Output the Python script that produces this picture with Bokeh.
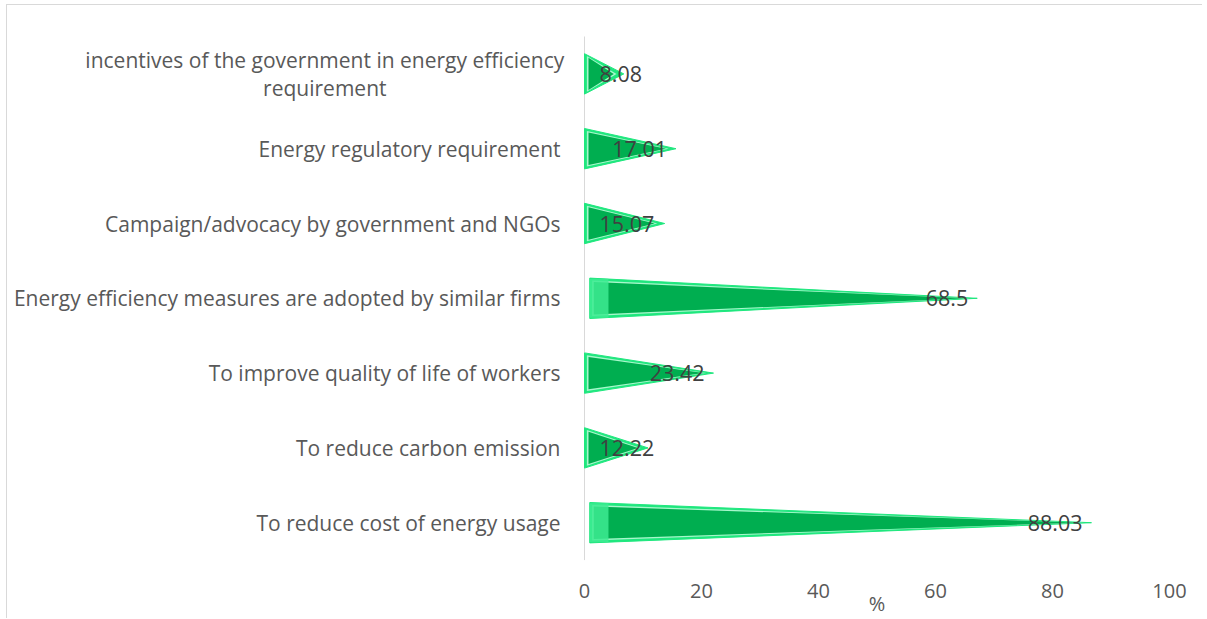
from bokeh.plotting import figure
from bokeh.models import Range1d
from bokeh.core.properties import value
from bokeh.embed import file_html
from bokeh.resources import INLINE

categories = [
    "To reduce cost of energy usage",
    "To reduce carbon emission",
    "To improve quality of life of workers",
    "Energy efficiency measures are adopted by similar firms",
    "Campaign/advocacy by government and NGOs",
    "Energy regulatory requirement",
    "incentives of the government in energy efficiency\nrequirement",
]
percent = [88.03, 12.22, 23.42, 68.5, 15.07, 17.01, 8.08]
x_ticks = [0, 20, 40, 60, 80, 100]
x_title = "%"

FONT = "Open Sans"
TXT = "#595959"
W, H = 1196, 614
PX = 5.85          # pixels per percent
PY = 74.8          # pixels per category band
AX = 577           # canvas x of the value axis
TOP = 31           # canvas y of the top of the category bands
n = len(categories)
x0 = -AX / PX
y1 = (n - 0.5) + TOP / PY

p = figure(width=W, height=H, output_backend="svg", toolbar_location=None,
           x_range=Range1d(x0, x0 + W / PX), y_range=Range1d(y1 - H / PY, y1),
           min_border=0)
p.styles = {"border-top": "1px solid #d9d9d9", "border-left": "1px solid #d9d9d9",
            "margin-left": "6px", "margin-top": "4px"}
p.outline_line_color = None
p.xgrid.visible = False
p.ygrid.visible = False
p.xaxis.visible = False
p.yaxis.visible = False

# value axis line
p.segment(x0=[0], x1=[0], y0=[-0.5], y1=[n - 0.5], line_color="#d9d9d9", line_width=1)

# cone-like bars
half = 0.27
ex = 4.0 / PX
ey = 4.0 / PY
tip_cut = 8.0 / PX
outer_xs, outer_ys, inner_xs, inner_ys, hl_xs, hl_ys = [], [], [], [], [], []
strip_l, strip_r, strip_b, strip_t = [], [], [], []
for i, v in enumerate(percent):
    base = 0.9 if v > 50 else 0.0
    tip = v - tip_cut
    outer_xs.append([base, tip, base])
    outer_ys.append([i + half, i, i - half])
    inner_xs.append([base + ex, tip - 2.5 * ex, base + ex])
    inner_ys.append([i + half - ey, i, i - half + ey])
    hl_xs.append([base + ex * 0.6, tip - 1.8 * ex, base + ex * 0.6])
    hl_ys.append([i + half - ey * 0.6, i, i - half + ey * 0.6])
    if v > 50:
        strip_l.append(base)
        strip_r.append(base + 3.2)
        strip_b.append(i - half + 0.01)
        strip_t.append(i + half - 0.01)

p.patches(outer_xs, outer_ys, fill_color="#1FE77E", line_color="#1FE77E", line_width=1)
p.patches(hl_xs, hl_ys, fill_color="#A8F7CC", line_color=None)
p.patches(inner_xs, inner_ys, fill_color="#00AE50", line_color=None)
if strip_l:
    p.quad(left=strip_l, right=strip_r, bottom=strip_b, top=strip_t,
           fill_color="#3DEB92", fill_alpha=0.85, line_color=None)

# value labels
lab_x, lab_y, lab_t, lab_align, lab_off = [], [], [], [], []
for i, v in enumerate(percent):
    t = f"{v:g}"
    w = len(t) * 11.3
    right_px = v * PX - 17
    if right_px - w < 15:
        lab_x.append(0.0); lab_align.append("left"); lab_off.append(15)
    else:
        lab_x.append(v); lab_align.append("right"); lab_off.append(-17)
    lab_y.append(i)
    lab_t.append(t)
p.text(x=lab_x, y=lab_y, text=lab_t, text_align=lab_align, x_offset=lab_off,
       text_baseline="middle", text_font=value(FONT), text_font_size="21.5px",
       text_color="#404040")

# category labels (multi-line ones are centred on their longest line)
cx, cy, ct, ca, co = [], [], [], [], []
for i, c in enumerate(categories):
    cy.append(i); cx.append(0.0); ct.append(c)
    if "\n" in c:
        longest = max(len(s) for s in c.split("\n"))
        ca.append("center"); co.append(-24 - longest * 9.62 / 2)
    else:
        ca.append("right"); co.append(-24)
p.text(x=cx, y=cy, text=ct, text_align=ca, x_offset=co, text_baseline="middle",
       text_font=value(FONT), text_font_size="21px", text_line_height=1.0,
       text_color=TXT)

# x tick labels and title
p.text(x=x_ticks, y=[-0.5] * len(x_ticks), text=[str(t) for t in x_ticks],
       text_align="center", text_baseline="middle", y_offset=31,
       text_font=value(FONT), text_font_size="20px", text_color=TXT)
p.text(x=[(x_ticks[0] + x_ticks[-1]) / 2], y=[-0.5], text=[x_title],
       text_align="center", text_baseline="middle", y_offset=43,
       text_font=value(FONT), text_font_size="20px", text_color=TXT)

open("out.html", "w").write(file_html(p, INLINE))
